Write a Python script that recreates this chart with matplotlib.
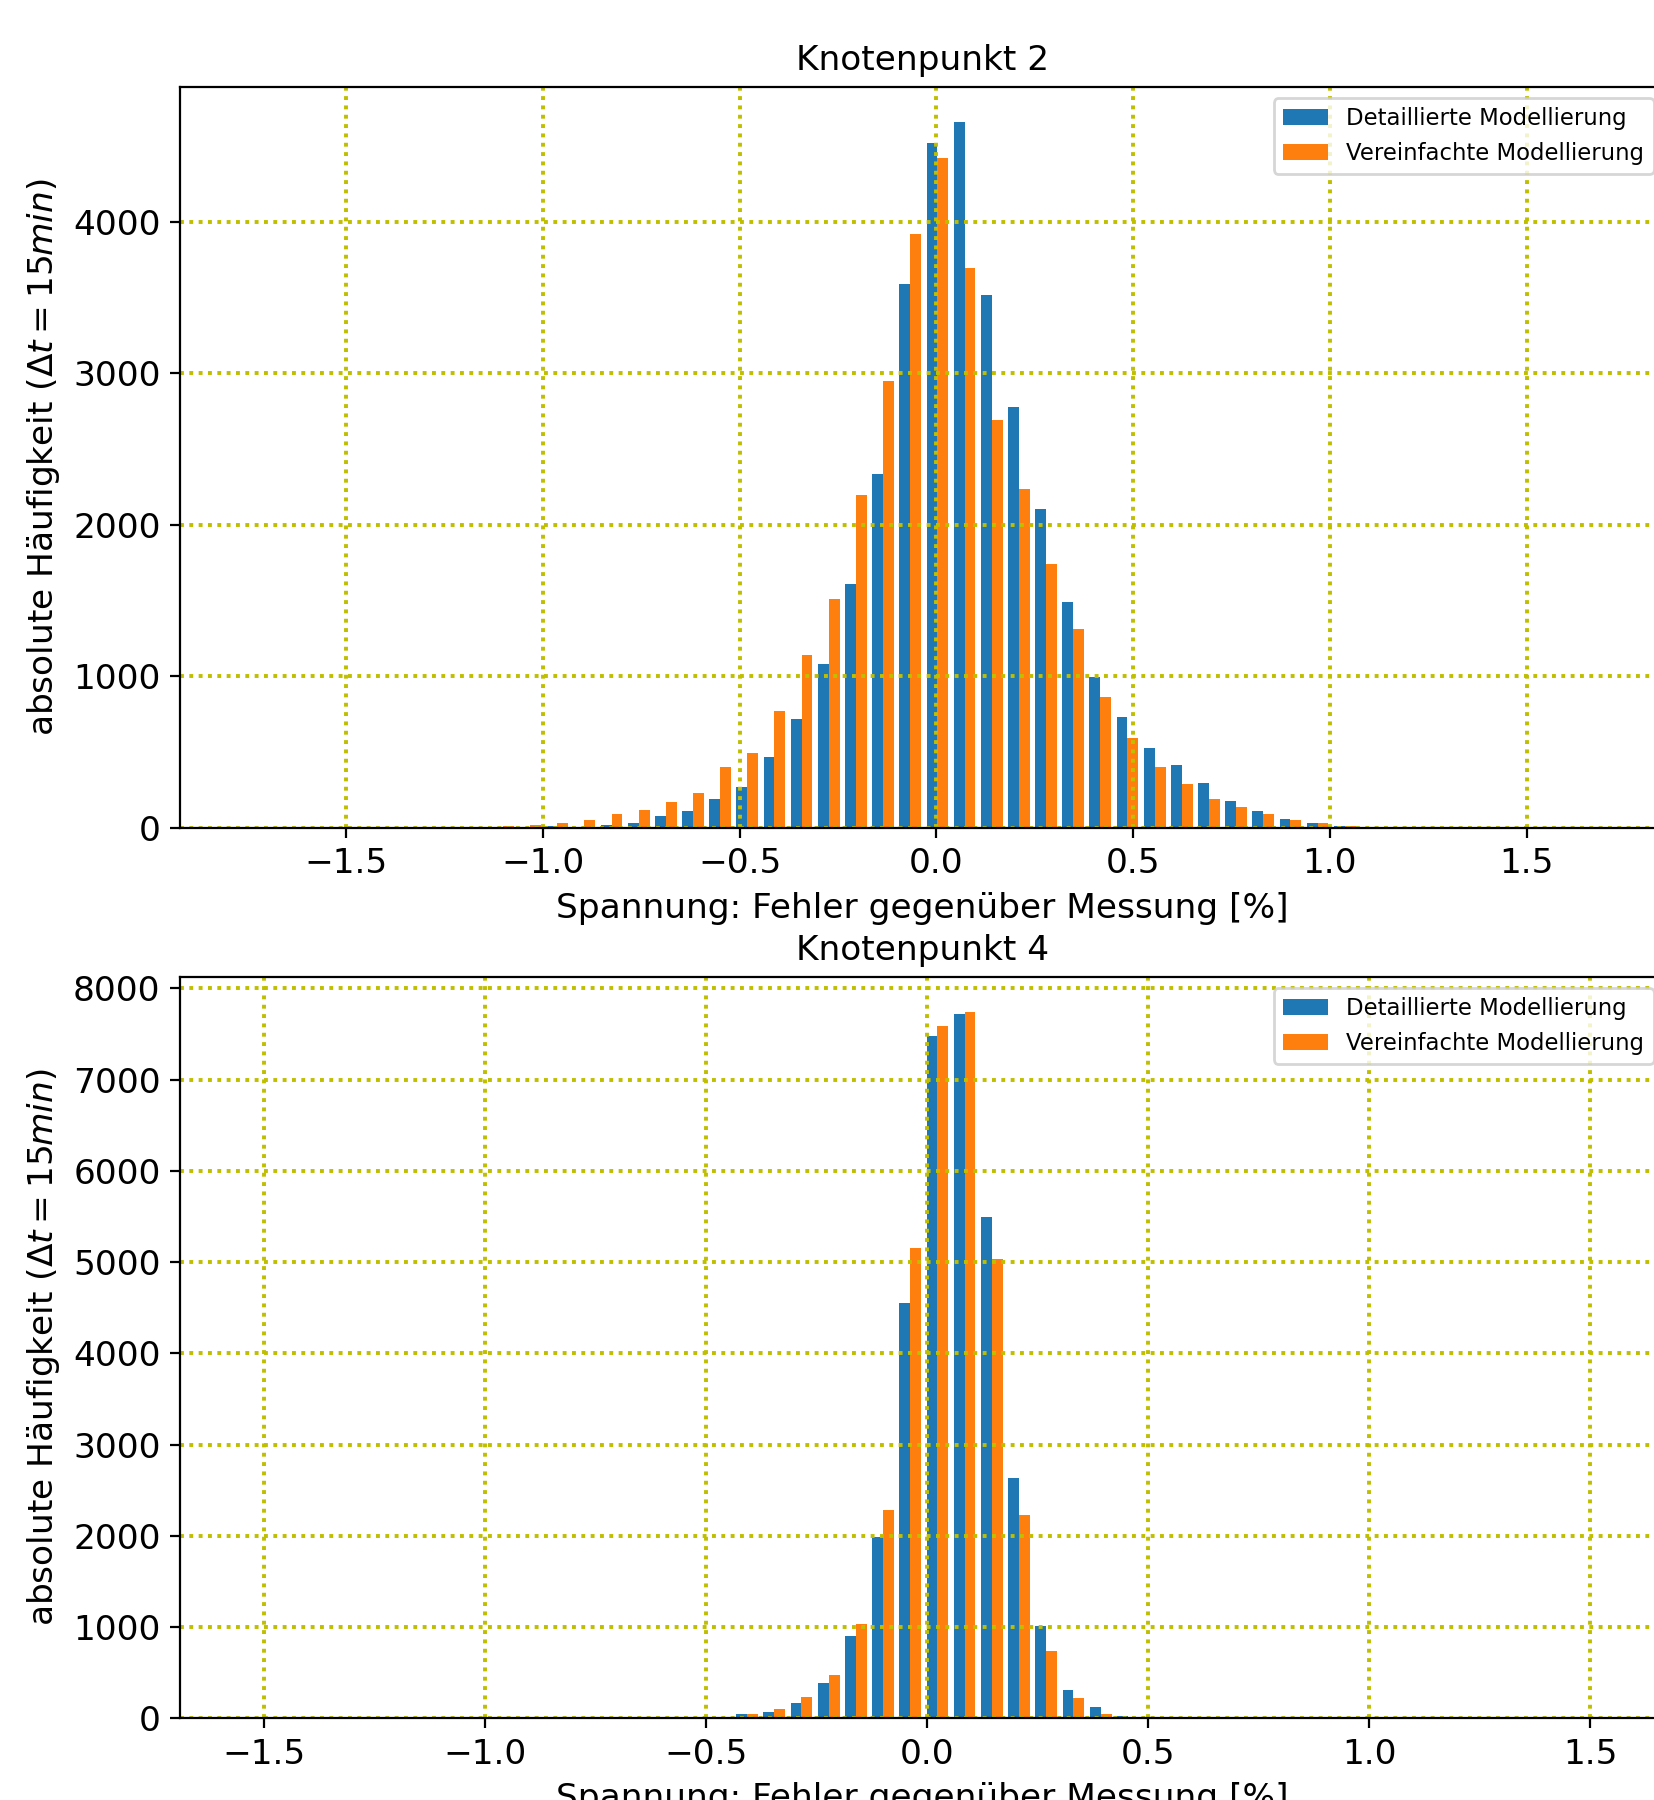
import numpy as np
import matplotlib.pyplot as plt
from matplotlib.ticker import MultipleLocator

# Knotenpunkt 2: bin edges [%] and counts
bins_k2 = [-1.205, -1.136, -1.067, -0.998, -0.929, -0.860, -0.791, -0.722, -0.653,
           -0.584, -0.515, -0.446, -0.377, -0.308, -0.239, -0.170, -0.101, -0.032,
           0.037, 0.106, 0.175, 0.244, 0.313, 0.382, 0.451, 0.520, 0.589, 0.658,
           0.727, 0.796, 0.865, 0.934, 1.003, 1.072, 1.141, 1.210]
detail_k2 = [0, 2, 4, 10, 6, 19, 32, 77, 112, 189, 269, 468, 718, 1083, 1607, 2337,
             3590, 4516, 4660, 3516, 2779, 2103, 1490, 997, 731, 526, 413, 295, 176,
             112, 61, 32, 13, 4, 1]
simple_k2 = [8, 12, 20, 32, 51, 93, 122, 170, 231, 404, 494, 769, 1138, 1508, 2196,
             2952, 3917, 4420, 3692, 2689, 2234, 1740, 1314, 865, 593, 404, 292, 189,
             138, 93, 54, 35, 10, 5, 3]

# Knotenpunkt 4
bins_k4 = [-0.560, -0.499, -0.437, -0.376, -0.314, -0.253, -0.191, -0.130, -0.068,
           -0.007, 0.055, 0.116, 0.178, 0.239, 0.301, 0.362, 0.424, 0.485]
detail_k4 = [2, 8, 44, 65, 169, 387, 899, 1989, 4556, 7482, 7722, 5488, 2632, 1010,
             311, 119, 22]
simple_k4 = [4, 15, 49, 104, 229, 469, 1030, 2283, 5150, 7591, 7738, 5035, 2223, 733,
             219, 44, 7]

labels = ['Detaillierte Modellierung', 'Vereinfachte Modellierung']
xlabel = 'Spannung: Fehler gegenüber Messung [%]'
ylabel = r'absolute Häufigkeit ($\Delta t = 15min$)'

plt.rcParams['font.size'] = 12.4

fig = plt.figure(figsize=(8.27, 9), dpi=200)
ax1 = fig.add_axes([0.1088, 0.540, 0.8978, 0.4118])
ax2 = fig.add_axes([0.1088, 0.0454, 0.8978, 0.4119])


def draw(ax, bins, detail, simple, title, xlim, ylim):
    centers = (np.array(bins[:-1]) + np.array(bins[1:])) / 2
    ax.hist([centers, centers], bins=bins, weights=[detail, simple], label=labels)
    ax.set_xlim(*xlim)
    ax.set_ylim(*ylim)
    ax.xaxis.set_major_locator(MultipleLocator(0.5))
    ax.yaxis.set_major_locator(MultipleLocator(1000))
    ax.grid(True, color='y', linestyle=(0, (1, 1.4)), linewidth=1.4)
    ax.set_title(title, fontsize=12.4)
    ax.set_xlabel(xlabel)
    ax.set_ylabel(ylabel)
    ax.legend(loc='upper right', fontsize=8.2)


draw(ax1, bins_k2, detail_k2, simple_k2, 'Knotenpunkt 2', (-1.922, 1.851), (0, 4890))
draw(ax2, bins_k4, detail_k4, simple_k4, 'Knotenpunkt 4', (-1.689, 1.669), (0, 8125))

fig.savefig('out.png', dpi=200)
